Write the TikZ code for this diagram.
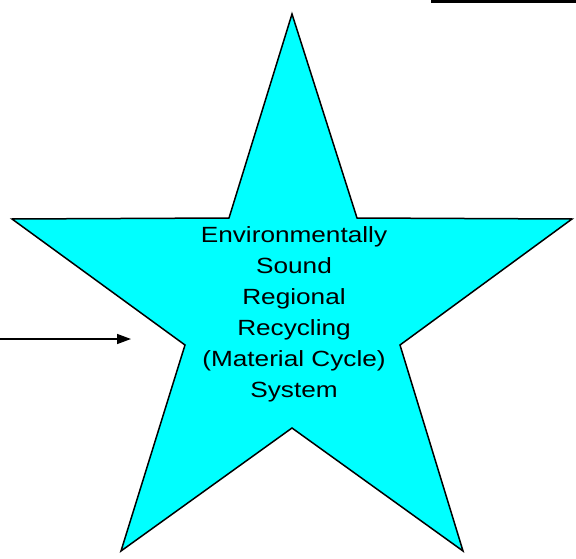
\documentclass[tikz,border=0pt]{standalone}
\usepackage{fontspec}
\setmainfont{Liberation Sans}[FakeStretch=1.19]
\usetikzlibrary{arrows.meta}
\definecolor{starcyan}{RGB}{0,255,255}
\tikzset{
  starshape/.style={fill=starcyan, draw=black, line width=1.5pt, line join=miter},
  startext/.style={align=center, font=\fontsize{22}{31}\selectfont, text=black, inner sep=0pt},
  feedarrow/.style={draw=black, line width=1.4pt, -{Triangle[length=14pt,width=10pt]}},
  topbar/.style={draw=black, line width=3pt}
}
\begin{document}
\begin{tikzpicture}[x=1pt,y=-1pt]
\useasboundingbox (0,0) rectangle (576,559);
% star outline
\coordinate (sTop) at (292,14);
\coordinate (sUR) at (357,218);
\coordinate (sRt) at (572,219);
\coordinate (sRL) at (400,345);
\coordinate (sBR) at (463,551);
\coordinate (sBot) at (292,428);
\coordinate (sBL) at (121,551);
\coordinate (sLL) at (185,345);
\coordinate (sLt) at (12,219);
\coordinate (sUL) at (229,218);
\path[starshape] (sTop) -- (sUR) -- (sRt) -- (sRL) -- (sBR) -- (sBot) -- (sBL) -- (sLL) -- (sLt) -- (sUL) -- cycle;
% text
\node[startext] (label) at (294,314) {Environmentally\\Sound\\Regional\\Recycling\\(Material Cycle)\\System};
% incoming arrow
\coordinate (arrS) at (0,339);
\coordinate (arrE) at (131,339);
\draw[feedarrow] (arrS) -- (arrE);
% top right bar
\coordinate (barS) at (431,1.5);
\coordinate (barE) at (576,1.5);
\draw[topbar] (barS) -- (barE);
\end{tikzpicture}
\end{document}
